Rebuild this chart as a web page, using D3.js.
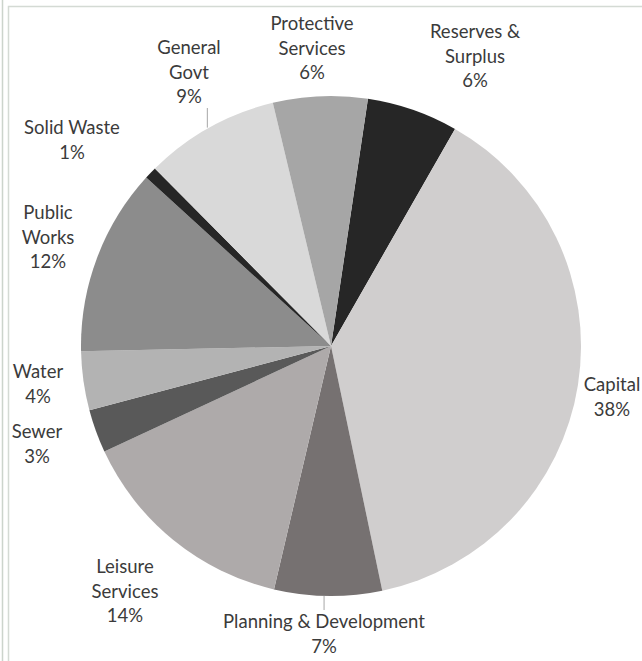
<!DOCTYPE html>
<html>
<head>
<meta charset="utf-8">
<script src="https://cdn.jsdelivr.net/npm/d3@7"></script>
<style>
  html, body { margin: 0; padding: 0; background: #fff; }
  svg text { font-family: Lato, "Open Sans", sans-serif; fill: #3b3b3b; }
</style>
</head>
<body>
<script>
// slices, clockwise from the top (percent of budget)
var categories = ["Reserves & Surplus", "Capital", "Planning & Development", "Leisure Services",
                  "Sewer", "Water", "Public Works", "Solid Waste", "General Govt", "Protective Services"];
var values = [5.9, 38.45, 6.95, 14.4, 2.8, 3.8, 12.1, 0.8, 8.7, 6.1];
var colors = ["#262626", "#d0cece", "#767171", "#aeaaaa", "#595959",
              "#b3b3b3", "#8c8c8c", "#262626", "#d9d9d9", "#a6a6a6"];
// how each label is broken into lines
var labelLines = [["Reserves &", "Surplus"], ["Capital"], ["Planning & Development"], ["Leisure", "Services"],
                  ["Sewer"], ["Water"], ["Public", "Works"], ["Solid Waste"], ["General", "Govt"], ["Protective", "Services"]];

var width = 642, height = 661;
var cx = 331, cy = 346, r = 250;
var startDeg = 8.5;

var svg = d3.select("body").append("svg")
    .attr("width", width)
    .attr("height", height);

// chart frame
svg.append("line").attr("x1", 2.5).attr("x2", 2.5).attr("y1", 0).attr("y2", height)
    .attr("stroke", "#ccd4cc").attr("stroke-width", 1.5);
svg.append("rect").attr("x", 8.5).attr("y", 6.5).attr("width", 700).attr("height", 700)
    .attr("fill", "none").attr("stroke", "#d4dad4").attr("stroke-width", 1.5);

var total = d3.sum(values);
var data = categories.map(function(c, i) { return { name: c, value: values[i], i: i }; });

var pie = d3.pie()
    .sort(null)
    .value(function(d) { return d.value; })
    .startAngle(startDeg * Math.PI / 180)
    .endAngle(startDeg * Math.PI / 180 + 2 * Math.PI);

var arc = d3.arc().innerRadius(0).outerRadius(r);
var arcs = pie(data);

var g = svg.append("g").attr("transform", "translate(" + cx + "," + cy + ")");

g.selectAll("path")
    .data(arcs)
  .enter().append("path")
    .attr("d", arc)
    .attr("fill", function(d) { return colors[d.data.i]; });

// label anchor: centre of the first text line (absolute coords)
var labelPos = [[475, 32], [612, 385], [324, 622], [125, 567], [37, 432],
                [38, 372], [48, 213], [72, 128], [189, 48], [312, 24]];
var lineH = 24.5;

var labels = svg.append("g");
arcs.forEach(function(d) {
  var i = d.data.i;
  var lines = labelLines[i].concat([Math.round(d.data.value / total * 100) + "%"]);
  var t = labels.append("text")
      .attr("text-anchor", "middle")
      .style("font-size", "18.5px");
  lines.forEach(function(s, k) {
    t.append("tspan")
        .attr("x", labelPos[i][0])
        .attr("y", labelPos[i][1] + k * lineH)
        .attr("dy", "0.35em")
        .text(s);
  });
});

// leader lines for General Govt and Planning & Development
function edgePoint(d) {
  var a = (d.startAngle + d.endAngle) / 2;
  return [cx + r * Math.sin(a), cy - r * Math.cos(a)];
}
var gg = edgePoint(arcs[8]);
svg.append("line")
    .attr("x1", gg[0] - 2).attr("y1", labelPos[8][1] + 2 * lineH + 11)
    .attr("x2", gg[0] - 2).attr("y2", gg[1])
    .attr("stroke", "#a6a6a6");
var pd = edgePoint(arcs[2]);
svg.append("line")
    .attr("x1", pd[0] - 4).attr("y1", pd[1])
    .attr("x2", pd[0] - 4).attr("y2", labelPos[2][1] - 12)
    .attr("stroke", "#a6a6a6");
</script>
</body>
</html>
